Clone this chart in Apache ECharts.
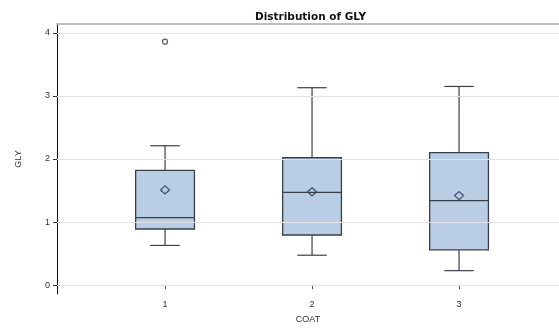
<!DOCTYPE html>
<html>
<head>
<meta charset="utf-8">
<script src="https://cdn.jsdelivr.net/npm/echarts@6/dist/echarts.min.js"></script>
<style>html,body{margin:0;padding:0;background:#fff}#c{width:559px;height:329px}</style>
</head>
<body>
<div id="c"></div>
<script>
const categories = [1, 2, 3];
const whiskerLow = [0.63, 0.475, 0.23];
const q1 = [0.89, 0.795, 0.56];
const median = [1.07, 1.47, 1.34];
const q3 = [1.82, 2.02, 2.10];
const whiskerHigh = [2.21, 3.13, 3.15];
const means = [1.51, 1.48, 1.42];
const outliers = [[1, 3.86]];
const yTicks = [0, 1, 2, 3, 4];

const boxData = categories.map((c, i) => [c, whiskerLow[i], q1[i], median[i], q3[i], whiskerHigh[i]]);
const meanData = categories.map((c, i) => [c, means[i]]);

const chart = echarts.init(document.getElementById('c'), null, {renderer: 'canvas'});
const FONT = 'Liberation Sans, Arial, sans-serif';

chart.setOption({
  animation: false,
  backgroundColor: '#fff',
  title: {
    text: 'Distribution of GLY',
    left: 250, top: 7,
    textStyle: {fontSize: 10.5, fontWeight: 'bold', fontFamily: 'DejaVu Sans', color: '#111'}
  },
  grid: {left: 57, right: 0, top: 24, bottom: 32},
  xAxis: [{
    type: 'value', min: 0.265, max: 3.68,
    name: 'COAT', nameLocation: 'middle', nameGap: 21,
    nameTextStyle: {fontSize: 9, fontFamily: FONT, color: '#333'},
    axisLine: {show: true, lineStyle: {color: '#777', width: 1}},
    axisTick: {show: true, length: 4, customValues: categories, lineStyle: {color: '#555'}},
    axisLabel: {customValues: categories, fontSize: 9, fontFamily: FONT, color: '#333', margin: 6},
    splitLine: {show: false}
  }, {
    type: 'value', position: 'top', min: 0.265, max: 3.68,
    axisLine: {show: true, lineStyle: {color: '#aaa', width: 1.5}},
    axisTick: {show: false}, axisLabel: {show: false}, splitLine: {show: false}
  }],
  yAxis: {
    type: 'value', min: -0.14, max: 4.14,
    name: 'GLY', nameLocation: 'middle', nameGap: 34,
    nameTextStyle: {fontSize: 9, fontFamily: FONT, color: '#333'},
    axisLine: {show: true, lineStyle: {color: '#111', width: 1}},
    axisTick: {show: true, length: 4, customValues: yTicks, lineStyle: {color: '#333'}},
    axisLabel: {customValues: yTicks, fontSize: 9, fontFamily: FONT, color: '#333', margin: 7},
    splitLine: {show: false}
  },
  series: [{
    type: 'line', data: [], silent: true,
    markLine: {
      silent: true, symbol: 'none', label: {show: false},
      lineStyle: {color: '#e2e2e2', width: 1, type: 'solid'},
      data: yTicks.map(v => ({yAxis: v}))
    }
  }, {
    type: 'custom',
    data: boxData,
    z: 3,
    renderItem: function (params, api) {
      const x = api.value(0);
      const pLow = api.coord([x, api.value(1)]);
      const pQ1 = api.coord([x, api.value(2)]);
      const pMed = api.coord([x, api.value(3)]);
      const pQ3 = api.coord([x, api.value(4)]);
      const pHigh = api.coord([x, api.value(5)]);
      const bw = api.size([0.4, 0])[0];
      const cw = api.size([0.2, 0])[0];
      const cx = pMed[0];
      const stroke = '#3a3f4a';
      return {
        type: 'group',
        children: [
          {type: 'line', shape: {x1: cx, y1: pQ3[1], x2: cx, y2: pHigh[1]}, style: {stroke: stroke, lineWidth: 1.2}},
          {type: 'line', shape: {x1: cx, y1: pQ1[1], x2: cx, y2: pLow[1]}, style: {stroke: stroke, lineWidth: 1.2}},
          {type: 'line', shape: {x1: cx - cw / 2, y1: pHigh[1], x2: cx + cw / 2, y2: pHigh[1]}, style: {stroke: stroke, lineWidth: 1.2}},
          {type: 'line', shape: {x1: cx - cw / 2, y1: pLow[1], x2: cx + cw / 2, y2: pLow[1]}, style: {stroke: stroke, lineWidth: 1.2}},
          {type: 'rect', shape: {x: cx - bw / 2, y: pQ3[1], width: bw, height: pQ1[1] - pQ3[1]},
            style: {fill: '#b9cde5', stroke: stroke, lineWidth: 1.3}},
          {type: 'line', shape: {x1: cx - bw / 2, y1: pMed[1], x2: cx + bw / 2, y2: pMed[1]}, style: {stroke: stroke, lineWidth: 1.3}}
        ]
      };
    }
  }, {
    type: 'scatter', data: meanData, z: 5,
    symbol: 'diamond', symbolSize: [9, 8],
    itemStyle: {color: 'rgba(0,0,0,0)', borderColor: '#2a3550', borderWidth: 1.3}
  }, {
    type: 'scatter', data: outliers, z: 5,
    symbol: 'circle', symbolSize: 5,
    itemStyle: {color: 'rgba(0,0,0,0)', borderColor: '#333', borderWidth: 1.2}
  }]
});
</script>
</body>
</html>
